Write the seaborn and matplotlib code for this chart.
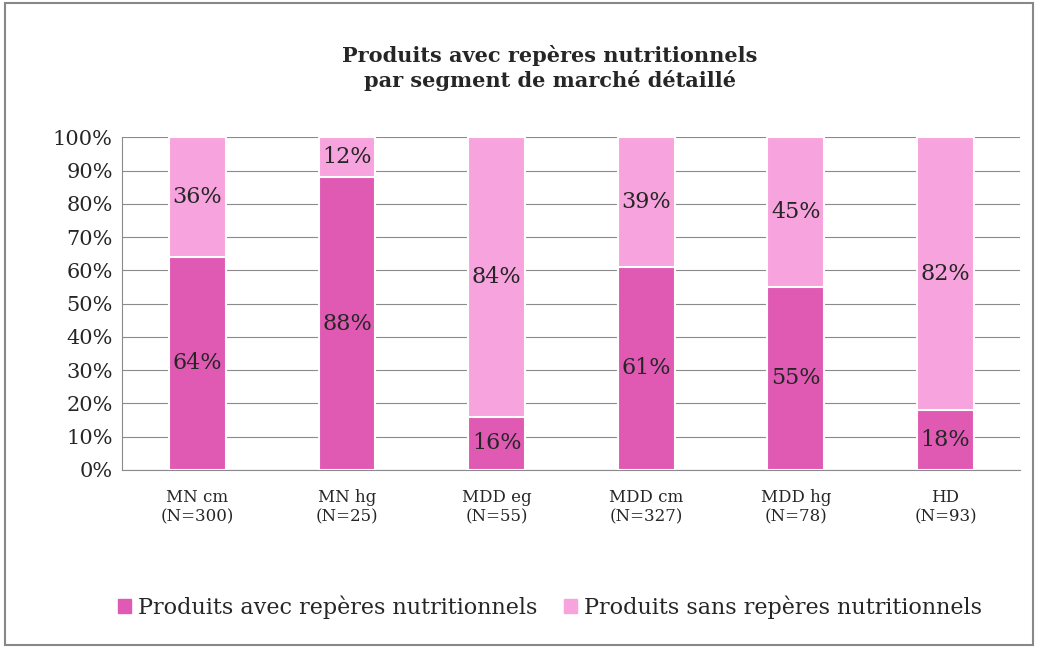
import pandas as pd
import matplotlib.pyplot as plt
import seaborn as sns
from matplotlib.patches import Patch

segments = ["MN cm\n(N=300)", "MN hg\n(N=25)", "MDD eg\n(N=55)",
            "MDD cm\n(N=327)", "MDD hg\n(N=78)", "HD\n(N=93)"]
avec = [64, 88, 16, 61, 55, 18]
sans = [36, 12, 84, 39, 45, 82]

dark = "#E05AB4"
light = "#F7A3DD"

sns.set_style("white")
plt.rcParams['font.family'] = ['DejaVu Serif']

df = pd.DataFrame({"seg": segments, "avec": avec, "sans": sans})
df["total"] = df["avec"] + df["sans"]

fig = plt.figure(figsize=(10.38, 6.48), dpi=100)
ax = fig.add_axes([0.118, 0.275, 0.865, 0.513])

sns.barplot(x="seg", y="total", data=df, color=light, width=0.38,
            edgecolor="white", linewidth=1.5, saturation=1, ax=ax, zorder=2)
sns.barplot(x="seg", y="avec", data=df, color=dark, width=0.38,
            edgecolor="white", linewidth=1.5, saturation=1, ax=ax, zorder=3)

for i, (a, s) in enumerate(zip(avec, sans)):
    ax.text(i, a / 2, f"{a}%", ha="center", va="center", fontsize=16, zorder=4)
    ax.text(i, a + s / 2, f"{s}%", ha="center", va="center", fontsize=16, zorder=4)

ax.set_ylim(0, 100)
ax.set_xlim(-0.5, 5.5)
ax.set_yticks(range(0, 101, 10))
ax.set_yticklabels([f"{v}%" for v in range(0, 101, 10)], fontsize=15)
ax.tick_params(axis="x", labelsize=12, length=0, pad=14)
ax.set_xlabel("")
ax.set_ylabel("")
ax.yaxis.grid(True, color="#8a8a8a", linewidth=0.8)
ax.set_axisbelow(True)
for side in ["top", "right"]:
    ax.spines[side].set_visible(False)
ax.spines["left"].set_color("#8a8a8a")
ax.spines["bottom"].set_color("#8a8a8a")

fig.text(0.53, 0.895, "Produits avec repères nutritionnels\npar segment de marché détaillé",
         ha="center", va="center", fontsize=15, fontweight="bold", linespacing=1.25)

handles = [Patch(color=dark), Patch(color=light)]
fig.legend(handles, ["Produits avec repères nutritionnels", "Produits sans repères nutritionnels"],
           loc="center", bbox_to_anchor=(0.53, 0.063), ncol=2, frameon=False,
           fontsize=16, handlelength=0.6, handleheight=0.6, handletextpad=0.3,
           columnspacing=1.2)

fig.patches.append(plt.Rectangle((0.005, 0.005), 0.99, 0.99, transform=fig.transFigure,
                                 fill=False, edgecolor="#888888", linewidth=1.5))

fig.savefig("out.png", dpi=100)
